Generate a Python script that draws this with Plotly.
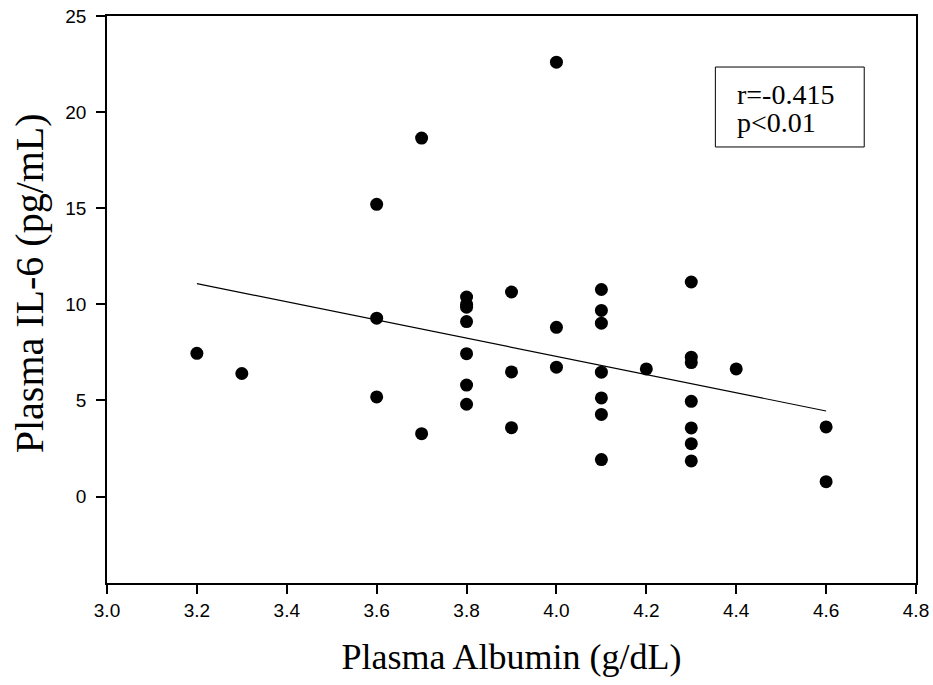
import plotly.graph_objects as go

# Data
albumin = [3.2, 3.3,
           3.6, 3.6, 3.6,
           3.7, 3.7,
           3.8, 3.8, 3.8, 3.8, 3.8, 3.8, 3.8,
           3.9, 3.9, 3.9,
           4.0, 4.0, 4.0,
           4.1, 4.1, 4.1, 4.1, 4.1, 4.1, 4.1,
           4.2,
           4.3, 4.3, 4.3, 4.3, 4.3, 4.3, 4.3,
           4.4,
           4.6, 4.6]
il6 = [7.45, 6.40,
       15.2, 9.28, 5.18,
       18.65, 3.27,
       10.38, 10.0, 9.85, 9.10, 7.43, 5.80, 4.80,
       10.64, 6.48, 3.58,
       22.6, 8.80, 6.73,
       10.77, 9.68, 9.02, 6.47, 5.13, 4.27, 1.92,
       6.64,
       11.16, 7.25, 6.97, 4.95, 3.57, 2.75, 1.85,
       6.64,
       3.62, 0.77]

fit_x = [3.2, 4.6]
fit_y = [11.08, 4.45]

x_ticks = [3.0, 3.2, 3.4, 3.6, 3.8, 4.0, 4.2, 4.4, 4.6, 4.8]
x_ticktext = ["3.0", "3.2", "3.4", "3.6", "3.8", "4.0", "4.2", "4.4", "4.6", "4.8"]
y_ticks = [0, 5, 10, 15, 20, 25]

x_title = "Plasma Albumin (g/dL)"
y_title = "Plasma IL-6 (pg/mL)"
stat_lines = ["r=-0.415", "p<0.01"]

fig = go.Figure()
fig.add_trace(go.Scatter(x=fit_x, y=fit_y, mode="lines",
                         line=dict(color="black", width=1.2),
                         showlegend=False, hoverinfo="skip"))
fig.add_trace(go.Scatter(x=albumin, y=il6, mode="markers",
                         marker=dict(color="black", size=13,
                                     line=dict(color="black", width=0)),
                         showlegend=False))

serif = "Liberation Serif, Times New Roman, serif"
sans = "Liberation Sans, Arial, sans-serif"

fig.update_layout(
    width=933, height=685,
    margin=dict(l=107, r=17, t=16, b=102),
    paper_bgcolor="white", plot_bgcolor="white",
    showlegend=False,
    xaxis=dict(range=[3.0, 4.8], tickvals=x_ticks, ticktext=x_ticktext,
               showgrid=False, zeroline=False, automargin=False,
               showline=True, linecolor="black", linewidth=1.5, mirror=True,
               ticks="outside", ticklen=9, tickwidth=1.5, tickcolor="black",
               tickfont=dict(family=sans, size=19, color="black"),
               title=dict(text=x_title,
                          font=dict(family=serif, size=36, color="black"),
                          standoff=24)),
    yaxis=dict(range=[-4.5, 25], tickvals=y_ticks,
               showgrid=False, zeroline=False, automargin=False,
               showline=True, linecolor="black", linewidth=1.5, mirror=True,
               ticks="outside", ticklen=9, tickwidth=1.5, tickcolor="black",
               ticklabelstandoff=6,
               tickfont=dict(family=sans, size=19, color="black")),
)

# y-axis title placed as rotated text
fig.add_annotation(xref="paper", yref="paper", x=-0.0964, y=0.5286,
                   xanchor="center", yanchor="middle", showarrow=False,
                   textangle=-90, text=y_title,
                   font=dict(family=serif, size=40, color="black"))

# stats box
fig.add_shape(type="rect", xref="paper", yref="paper",
              x0=0.752, x1=0.936, y0=0.769, y1=0.910,
              line=dict(color="black", width=1), fillcolor="white", layer="above")
for i, txt in enumerate(stat_lines):
    fig.add_annotation(xref="paper", yref="paper", x=0.7766, y=0.862 - i * 0.0495,
                       xanchor="left", yanchor="middle", showarrow=False,
                       text=txt, font=dict(family=serif, size=28, color="black"))

fig.write_html("out.html")
